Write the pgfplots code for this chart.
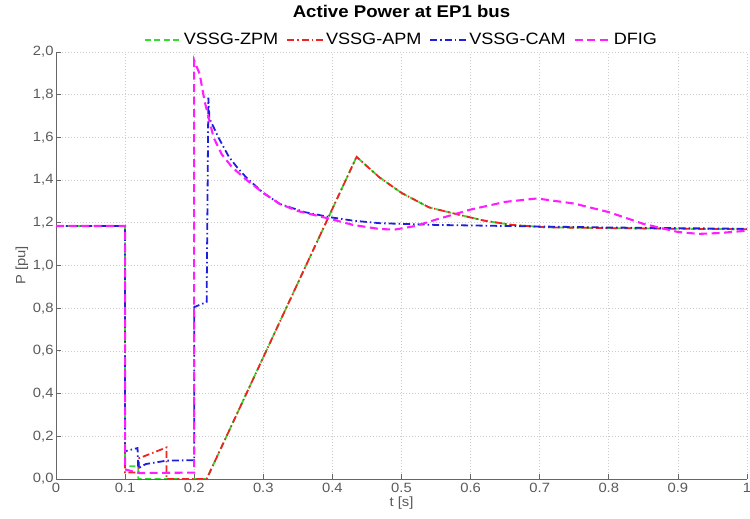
\documentclass[border=0pt]{standalone}
\usepackage{fontspec}
\setmainfont[FakeStretch=1.1]{Liberation Sans}
\usepackage{pgfplots}
\pgfplotsset{compat=1.18}
\definecolor{cgreen}{RGB}{50,220,50}
\definecolor{cred}{RGB}{240,35,35}
\definecolor{cblue}{RGB}{30,30,220}
\definecolor{cmag}{RGB}{255,30,255}
\definecolor{tickgray}{RGB}{90,90,90}
\begin{document}
\begin{tikzpicture}
\begin{axis}[
  name=ax,
  scale only axis,
  width=691bp, height=427bp,
  xmin=0, xmax=1, ymin=0, ymax=2,
  axis x line*=bottom, axis y line*=left,
  axis line style={draw=gray!80!black, line width=0.9pt},
  tick align=inside,
  major tick length=5bp,
  tick style={draw=gray!80!black, line width=0.8pt},
  xtick={0,0.1,0.2,0.3,0.4,0.5,0.6,0.7,0.8,0.9,1},
  xticklabels={0,0.1,0.2,0.3,0.4,0.5,0.6,0.7,0.8,0.9,1},
  ytick={0,0.2,0.4,0.6,0.8,1.0,1.2,1.4,1.6,1.8,2.0},
  yticklabels={{0,0},{0,2},{0,4},{0,6},{0,8},{1,0},{1,2},{1,4},{1,6},{1,8},{2,0}},
  /pgf/number format/assume math mode=true,
  tick label style={font=\fontsize{13.5}{15}\selectfont, text=tickgray},
  xticklabel style={yshift=-1bp},
  yticklabel style={xshift=1bp},
  grid=major,
  grid style={line width=0.7pt, draw=gray!40, dash pattern=on 0.7pt off 2.3pt},
  xlabel={t [s]}, ylabel={P [pu]},
  label style={font=\fontsize{13.5}{15}\selectfont, text=tickgray},
  xlabel style={yshift=3bp},
  ylabel style={yshift=-2bp},
  title={Active Power at EP1 bus},
  title style={at={(0.5,1)}, anchor=center, yshift=35bp, font=\bfseries\fontsize{17}{20}\selectfont},
  legend columns=4,
  legend style={at={(0.5,1)}, anchor=center, yshift=12bp, draw=none, fill=none,
    font=\fontsize{16.5}{18}\selectfont, inner sep=0pt,
    /tikz/every even column/.append style={column sep=6bp}},
  legend image code/.code={\draw[#1] (0bp,0bp) -- (36bp,0bp);},
]
\addplot[cgreen, line width=1.8pt, dash pattern=on 6bp off 3.5bp] coordinates {
(0,1.185) (0.1,1.185) (0.1,0.06) (0.119,0.06) (0.119,0) (0.218,0) (0.435,1.509)
(0.45,1.465) (0.468,1.413) (0.5,1.34) (0.54,1.272) (0.588,1.234) (0.62,1.21)
(0.66,1.19) (0.708,1.179) (0.8,1.175) (0.9,1.172) (1.0,1.17)};
\addlegendentry{VSSG-ZPM}
\addplot[cred, line width=1.8pt, dash pattern=on 7bp off 3bp on 1.5bp off 3bp] coordinates {
(0,1.185) (0.1,1.185) (0.1,0.03) (0.12,0.03) (0.12,0.097) (0.16,0.148) (0.16,0) (0.218,0) (0.435,1.509)
(0.45,1.465) (0.468,1.413) (0.5,1.34) (0.54,1.272) (0.588,1.234) (0.62,1.21)
(0.66,1.19) (0.708,1.179) (0.8,1.175) (0.9,1.172) (1.0,1.17)};
\addlegendentry{VSSG-APM}
\addplot[cblue, line width=1.8pt, dash pattern=on 7bp off 3bp on 1.5bp off 3bp] coordinates {
(0,1.185) (0.1,1.185) (0.1,0.13) (0.118,0.145) (0.119,0.05) (0.13,0.07) (0.16,0.086) (0.2,0.088)
(0.2,0.805) (0.218,0.829) (0.2205,1.786) (0.222,1.69) (0.235,1.60) (0.25,1.51) (0.262,1.46)
(0.276,1.41) (0.3,1.34) (0.324,1.288) (0.36,1.25) (0.397,1.226) (0.43,1.21) (0.469,1.198)
(0.55,1.19) (0.65,1.185) (0.8,1.178) (1.0,1.172)};
\addlegendentry{VSSG-CAM}
\addplot[cmag, line width=2.1pt, dash pattern=on 8bp off 4.5bp] coordinates {
(0,1.185) (0.1,1.185) (0.1,0.045) (0.12,0.028) (0.2,0.03) (0.2,1.96) (0.208,1.896) (0.215,1.77)
(0.228,1.60) (0.24,1.52) (0.255,1.46) (0.276,1.40) (0.3,1.34) (0.324,1.288) (0.35,1.255)
(0.397,1.218) (0.43,1.19) (0.468,1.171) (0.49,1.168) (0.52,1.185) (0.55,1.215) (0.6,1.262)
(0.65,1.298) (0.696,1.314) (0.75,1.29) (0.8,1.25) (0.85,1.195) (0.9,1.157) (0.93,1.148)
(0.96,1.152) (1.0,1.163)};
\addlegendentry{DFIG}
\end{axis}
\pgfresetboundingbox
\path[use as bounding box] ([shift={(-56bp,-40bp)}]ax.south west) rectangle ([shift={(694bp,479bp)}]ax.south west);
\end{tikzpicture}
\end{document}
